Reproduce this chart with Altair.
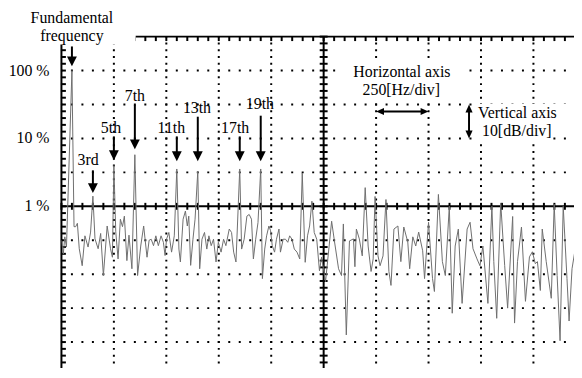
import altair as alt
import pandas as pd

# ---------------- data ----------------
# spectrum trace: frequency [Hz], level [dB re fundamental]
freq_hz = [0, 9, 16, 24, 50, 60, 68, 76, 85, 99, 112, 127, 139, 150, 160, 175, 187, 200, 218, 234,
           243, 250, 259, 270, 281, 291, 300, 312, 322, 336, 350, 363, 378, 392, 408, 418, 428, 439, 450, 462,
           475, 486, 494, 501, 512, 525, 538, 550, 560, 567, 580, 591, 600, 607, 616, 627, 637, 650, 659, 670,
           682, 693, 703, 714, 725, 737, 748, 761, 773, 784, 800, 811, 821, 832, 850, 859, 871, 884, 895, 906,
           915, 926, 937, 950, 958, 969, 978, 989, 997, 1005, 1016, 1025, 1037, 1044, 1057, 1068, 1079, 1088, 1099, 1110,
           1123, 1136, 1148, 1162, 1173, 1183, 1194, 1205, 1217, 1230, 1240,
           1259, 1288, 1302, 1321, 1335, 1344, 1358, 1373, 1392, 1399, 1406, 1420, 1434, 1448, 1462, 1476, 1486, 1495,
           1509, 1519, 1533, 1547, 1561, 1571, 1585, 1604, 1618, 1632, 1651, 1660, 1675, 1689, 1703, 1722, 1731, 1750,
           1769, 1778, 1797, 1816, 1830, 1849, 1863, 1877, 1892, 1910, 1934, 1948, 1962, 1981, 1995, 2009, 2033, 2052,
           2061, 2075, 2094, 2113, 2127, 2151, 2160, 2174, 2193, 2212, 2231, 2245, 2259, 2269, 2283, 2292, 2311, 2335,
           2349, 2363, 2377, 2392, 2410, 2420, 2434, 2453]
level_db = [-50, -54, -49, -52, 0, -46, -46, -45, -52.5, -57.5, -48.7, -52, -47.6, -37, -49.6, -52.5, -48, -60.4, -45.8, -52.5,
            -55, -28, -47.5, -55.5, -43.8, -46, -42.9, -56, -48.5, -58.4, -24.8, -60.4, -51.7, -45.8, -55, -50, -49.7, -51.6, -48.7, -51.6,
            -48.7, -50.6, -54.5, -49.7, -47.7, -53.5, -48.7, -29, -52.6, -56.4, -43.8, -41.4, -45.8, -42.9, -57.4, -49.7, -43.8, -29.7, -58.4, -49.7,
            -47.7, -52.6, -48.7, -51.6, -49.7, -56.4, -50.6, -53.5, -49.7, -51.6, -46.7, -47.7, -53.5, -56.4, -29, -52.6, -49.7, -42.9, -42.4, -43.8,
            -55.5, -49.7, -44.8, -29, -61.3, -52.6, -48.7, -45.8, -47.2, -51.6, -53.5, -49.7, -46.7, -53.5, -49.7, -49.7, -50.6, -48.7, -49.7, -52.6,
            -53.5, -55.5, -30.2, -56.5, -48.7, -45.8, -38.5, -47.7, -49.7, -59, -55,
            -62.2, -44.4, -50.5, -58.4, -60.4, -45.2, -77.9, -50.2, -49.6, -57.8, -46.7, -49.6, -54.6, -34.5, -51.7, -59.2, -55.5, -37.1,
            -54.6, -57.5, -54.6, -38, -59.2, -63.3, -46.7, -45.8, -56.3, -46.1, -50.5, -58.4, -49, -51.7, -47.6, -53.1, -61.3, -44.7,
            -61.3, -65.1, -36.5, -56.3, -60.4, -40, -71.5, -51.7, -46.7, -68.6, -46.7, -44.7, -52.5, -55.5, -57.5, -51.7, -68.6, -40,
            -56.3, -73, -39, -57.5, -70, -43, -74.4, -56.3, -46.1, -68, -54.9, -53.4, -56.9, -56.3, -64.8, -46.7, -56.3, -67.1,
            -39.4, -60.4, -79.6, -40, -61.3, -73.8, -58.4, -51.1]

# harmonic arrows: x [Hz], shaft top [dB], arrow tip [dB]
arrow_x = [50, 150, 250, 350, 550, 650, 850, 950]
arrow_top = [7.1, -29.4, -19.4, -10.1, -19.4, -13.6, -19.4, -13.3]
arrow_tip = [1.25, -36.1, -26.4, -23.2, -26.7, -26.7, -26.7, -26.7]

# annotation texts
label_text = ["Fundamental", "frequency", "3rd", "5th", "7th", "11th", "13th", "17th", "19th",
              "Horizontal axis", "250[Hz/div]"]
label_x = [50, 50, 127, 236, 350, 524, 646, 828, 946, 1623, 1620]
label_y = [14.1, 8.8, -27.9, -18.3, -9.0, -18.3, -12.4, -18.3, -11.3, -1.95, -7.2]

side_text = ["Vertical axis", "10[dB/div]"]
side_x = [1986, 2005]
side_y = [-13.9, -19.2]

# y-axis percentage labels
pct_text = ["100 %", "10 %", "1 %"]
pct_db = [0, -20, -40]

# scale arrows: 250 Hz / div and 10 dB / div
h_arrow = {"x1": 1500, "x2": 1750, "y": -12.07}
v_arrow = {"x": 1943, "y1": -10, "y2": -20}

# white boxes behind the annotation texts
box_x1 = [-15, 1335, 1976, 1995]
box_x2 = [354, 1915, 2429, 2325]
box_y1 = [7.67, 3.6, -9.8, -15.4]
box_y2 = [30, -8.95, -14.5, -20.6]

# graticule (oscilloscope screen, 10 dB/div and 250 Hz/div)
X_MAX = 2443.4
Y_MIN = -87.67
Y_MAX = 10
h_dotted = [0, -10, -20, -30, -50, -60, -70, -80]
v_dotted = [250, 500, 750, 1000, 1500, 1750, 2000, 2250]
CENTER_F = 1250
CENTER_DB = -40

# ---------------- chart ----------------
W, H = 518, 335
xs = alt.Scale(domain=[0, X_MAX], nice=False, zero=False)
ys = alt.Scale(domain=[Y_MIN, Y_MAX], nice=False, zero=False)


def X(f):
    return alt.X(f, type="quantitative", scale=xs, axis=None)


def Y(f):
    return alt.Y(f, type="quantitative", scale=ys, axis=None)


FONT = "Liberation Serif"


def hlines(ys_list):
    n = len(ys_list)
    return pd.DataFrame({"y": ys_list, "x1": [0] * n, "x2": [X_MAX] * n})


def vlines(xs_list):
    n = len(xs_list)
    return pd.DataFrame({"x": xs_list, "y1": [Y_MAX] * n, "y2": [Y_MIN] * n})


hgrid = alt.Chart(hlines(h_dotted)).mark_rule(
    color="black", strokeWidth=2, strokeDash=[2, 8.6], strokeDashOffset=1
).encode(x=X("x1"), x2="x2", y=Y("y"))

vgrid = alt.Chart(vlines(v_dotted)).mark_rule(
    color="black", strokeWidth=2, strokeDash=[2, 4.86], strokeDashOffset=1
).encode(x=X("x"), y=Y("y1"), y2="y2")

frame_v = alt.Chart(vlines([0, CENTER_F])).mark_rule(color="black", strokeWidth=2).encode(
    x=X("x"), y=Y("y1"), y2="y2")
frame_h = alt.Chart(hlines([Y_MAX, CENTER_DB])).mark_rule(color="black", strokeWidth=2).encode(
    y=Y("y"), x=X("x1"), x2="x2")

db_ticks = list(range(10, -88, -2))
hz_ticks = list(range(0, 2444, 50))

cv_ticks = alt.Chart(pd.DataFrame({"y": db_ticks, "x": [CENTER_F] * len(db_ticks)})).mark_tick(
    orient="horizontal", color="black", size=8, thickness=2, opacity=1).encode(x=X("x"), y=Y("y"))
ch_ticks = alt.Chart(pd.DataFrame({"x": hz_ticks, "y": [CENTER_DB] * len(hz_ticks)})).mark_tick(
    orient="vertical", color="black", size=7, thickness=2, opacity=1).encode(x=X("x"), y=Y("y"))
left_ticks = alt.Chart(pd.DataFrame({"y": db_ticks, "x": [0] * len(db_ticks)})).mark_tick(
    orient="horizontal", color="black", size=5, thickness=2, xOffset=2, opacity=1).encode(x=X("x"), y=Y("y"))
top_ticks = alt.Chart(pd.DataFrame({"x": hz_ticks, "y": [Y_MAX] * len(hz_ticks)})).mark_tick(
    orient="vertical", color="black", size=5, thickness=2, yOffset=2, opacity=1).encode(x=X("x"), y=Y("y"))

boxes = alt.Chart(pd.DataFrame({"x1": box_x1, "x2": box_x2, "y1": box_y1, "y2": box_y2})).mark_rect(
    color="white", opacity=1).encode(x=X("x1"), x2="x2", y=Y("y1"), y2="y2")

trace = alt.Chart(pd.DataFrame({"f": freq_hz, "db": level_db})).mark_line(
    color="#6e6e6e", strokeWidth=1, clip=True).encode(x=X("f"), y=Y("db"))

arrows_df = pd.DataFrame({"x": arrow_x, "top": arrow_top, "tip": arrow_tip})
shafts = alt.Chart(arrows_df).mark_rule(color="black", strokeWidth=2, y2Offset=-5).encode(
    x=X("x"), y=Y("top"), y2="tip")
heads = alt.Chart(arrows_df).mark_point(
    shape="M-1,-2L1,-2L0,0Z", size=100, filled=True, color="black", opacity=1, strokeWidth=0).encode(
    x=X("x"), y=Y("tip"))

h_df = pd.DataFrame([h_arrow])
h_shaft = alt.Chart(h_df).mark_rule(color="black", strokeWidth=2, xOffset=4, x2Offset=-4).encode(
    x=X("x1"), x2="x2", y=Y("y"))
h_head_l = alt.Chart(h_df).mark_point(shape="M2,-0.9L2,0.9L0,0Z", size=64, filled=True, color="black",
                                       opacity=1, strokeWidth=0).encode(x=X("x1"), y=Y("y"))
h_head_r = alt.Chart(h_df).mark_point(shape="M-2,-0.9L-2,0.9L0,0Z", size=64, filled=True, color="black",
                                       opacity=1, strokeWidth=0).encode(x=X("x2"), y=Y("y"))
v_df = pd.DataFrame([v_arrow])
v_shaft = alt.Chart(v_df).mark_rule(color="black", strokeWidth=2, yOffset=4, y2Offset=-4).encode(
    x=X("x"), y=Y("y1"), y2="y2")
v_head_u = alt.Chart(v_df).mark_point(shape="M-0.9,2L0.9,2L0,0Z", size=64, filled=True, color="black",
                                       opacity=1, strokeWidth=0).encode(x=X("x"), y=Y("y1"))
v_head_d = alt.Chart(v_df).mark_point(shape="M-0.9,-2L0.9,-2L0,0Z", size=64, filled=True, color="black",
                                       opacity=1, strokeWidth=0).encode(x=X("x"), y=Y("y2"))

labels = alt.Chart(pd.DataFrame({"t": label_text, "x": label_x, "y": label_y})).mark_text(
    font=FONT, fontSize=16, color="black", align="center", baseline="alphabetic").encode(
    x=X("x"), y=Y("y"), text="t:N")
side_labels = alt.Chart(pd.DataFrame({"t": side_text, "x": side_x, "y": side_y})).mark_text(
    font=FONT, fontSize=16, color="black", align="left", baseline="alphabetic").encode(
    x=X("x"), y=Y("y"), text="t:N")
pct_labels = alt.Chart(pd.DataFrame({"t": pct_text, "y": pct_db, "x": [0] * len(pct_db)})).mark_text(
    font=FONT, fontSize=16, color="black", align="right", baseline="middle", dx=-12).encode(
    x=X("x"), y=Y("y"), text="t:N")

chart = alt.layer(
    hgrid, vgrid, frame_v, frame_h, cv_ticks, ch_ticks, left_ticks, top_ticks,
    boxes, trace, shafts, heads,
    h_shaft, h_head_l, h_head_r, v_shaft, v_head_u, v_head_d,
    labels, side_labels, pct_labels,
).properties(
    width=W, height=H,
    autosize=alt.AutoSizeParams(type="none"),
    padding={"left": 54, "top": 27, "right": 0, "bottom": 0},
    background="white",
).configure_view(stroke=None)

chart.save("out.html", embed_options={"renderer": "svg", "actions": False})
